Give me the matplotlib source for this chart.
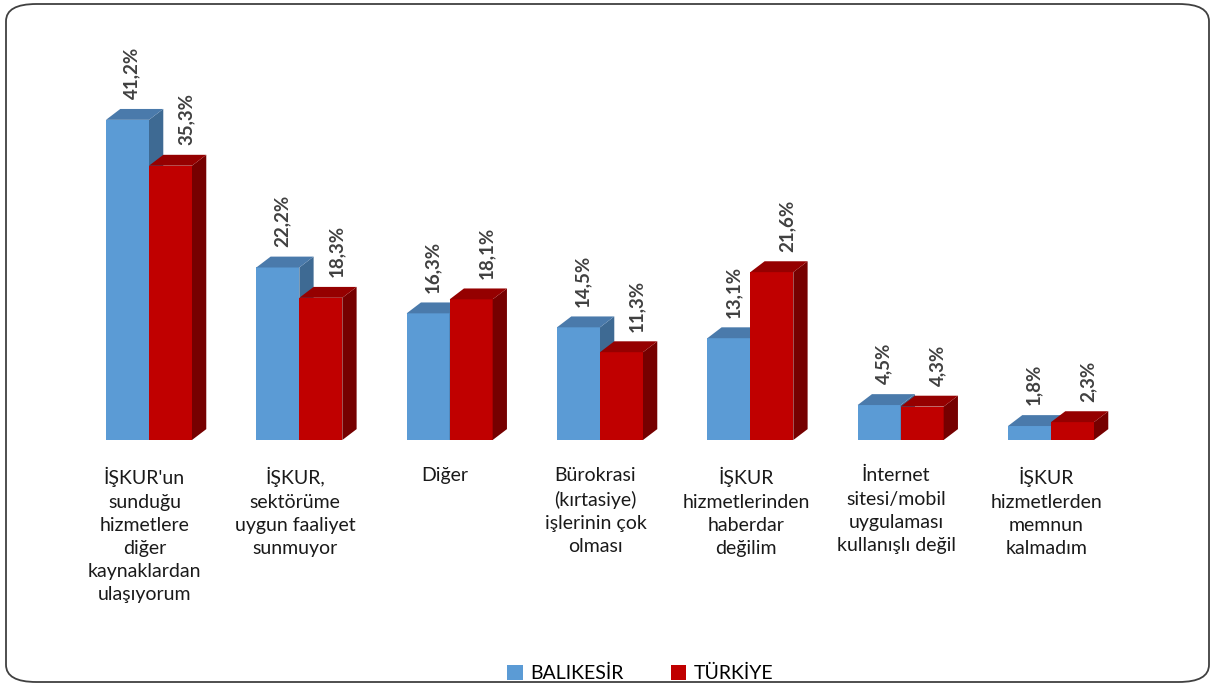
import matplotlib
matplotlib.use('Agg')
import matplotlib.pyplot as plt
from matplotlib.patches import Polygon, Patch, FancyBboxPatch

plt.rcParams['font.family'] = ['Lato', 'DejaVu Sans']

# Chart data
categories = ["İŞKUR'un\nsunduğu\nhizmetlere\ndiğer\nkaynaklardan\nulaşıyorum",
              "İŞKUR,\nsektörüme\nuygun faaliyet\nsunmuyor",
              "Diğer",
              "Bürokrasi\n(kırtasiye)\nişlerinin çok\nolması",
              "İŞKUR\nhizmetlerinden\nhaberdar\ndeğilim",
              "İnternet\nsitesi/mobil\nuygulaması\nkullanışlı değil",
              "İŞKUR\nhizmetlerden\nmemnun\nkalmadım"]
balikesir = [41.2, 22.2, 16.3, 14.5, 13.1, 4.5, 1.8]
turkiye = [35.3, 18.3, 18.1, 11.3, 21.6, 4.3, 2.3]
series_names = ['BALIKESİR', 'TÜRKİYE']

# colours: front, side, top
blue = ('#5b9bd5', '#3e6a93', '#4a7aab')
red = ('#c00000', '#760000', '#950000')

W, H = 1215, 687
fig = plt.figure(figsize=(W / 100, H / 100), dpi=100)
ax = fig.add_axes([13.7 / W, 247 / H, 1172.6 / W, 373 / H])
ax.set_xlim(-0.9, 6.9)
ax.set_ylim(0, 48)
ax.axis('off')

bw = 0.286   # bar width in category units
dx = 0.095   # depth offset (x)
dy = 1.4     # depth offset (y)


def bar3d(x0, v, cols, z):
    x1 = x0 + bw
    ax.bar(x0, v, width=bw, align='edge', color=cols[0], zorder=z)
    side = [(x1, 0), (x1 + dx, dy), (x1 + dx, v + dy), (x1, v)]
    top = [(x0, v), (x0 + dx, v + dy), (x1 + dx, v + dy), (x1, v)]
    ax.add_patch(Polygon(side, closed=True, facecolor=cols[1], edgecolor='none', zorder=z))
    ax.add_patch(Polygon(top, closed=True, facecolor=cols[2], edgecolor='none', zorder=z))


def label(x, v, off):
    txt = f"{v:.1f}".replace('.', ',') + '%'
    ax.annotate(txt, (x, v + dy), xytext=(off, 7), textcoords='offset points',
                rotation=90, ha='center', va='bottom', fontsize=13.5, fontweight='bold',
                color='#404040', annotation_clip=False)


for i, (b, t) in enumerate(zip(balikesir, turkiye)):
    bar3d(i - bw, b, blue, 2 * i + 1)
    bar3d(i, t, red, 2 * i + 2)
    label(i - bw / 2, b, 3)
    label(i + bw / 2, t, 11)

for i, c in enumerate(categories):
    ax.text(i - 0.03, -3.5, c, ha='center', va='top', fontsize=14, color='#1a1a1a',
            linespacing=1.44)

handles = [Patch(facecolor=blue[0]), Patch(facecolor=red[0])]
fig.legend(handles, series_names, loc='center', bbox_to_anchor=(0.527, 0.02),
           ncol=2, frameon=False, fontsize=14, handlelength=0.8, handleheight=0.8,
           columnspacing=2.4, handletextpad=0.4)

frame = FancyBboxPatch((6 / W, 5 / H), 1203 / W, 678 / H,
                       boxstyle='round,pad=0,rounding_size=0.025',
                       transform=fig.transFigure, facecolor='none',
                       edgecolor='#404040', linewidth=1.3)
fig.patches.append(frame)

fig.savefig('out.png', dpi=100)
